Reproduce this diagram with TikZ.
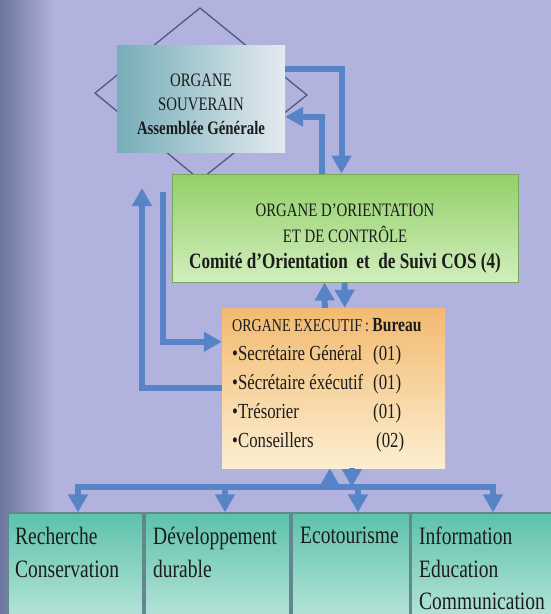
\documentclass[tikz,border=0pt]{standalone}
\usepackage{fontspec}
\setmainfont{Liberation Serif}[FakeStretch=0.78]
\usetikzlibrary{calc}
\usetikzlibrary{arrows.meta}
\usetikzlibrary{positioning}
\definecolor{custom-lavender}{RGB}{178, 178, 222}
\definecolor{custom-slate}{RGB}{108, 118, 158}
\definecolor{custom-steel}{RGB}{86, 132, 198}
\definecolor{custom-teal}{RGB}{118, 174, 184}
\definecolor{custom-mist}{RGB}{228, 234, 240}
\definecolor{custom-green}{RGB}{146, 208, 104}
\definecolor{custom-pale-green}{RGB}{210, 238, 190}
\definecolor{custom-green-edge}{RGB}{118, 168, 92}
\definecolor{custom-orange}{RGB}{242, 186, 112}
\definecolor{custom-cream}{RGB}{252, 238, 208}
\definecolor{custom-aqua}{RGB}{92, 194, 170}
\definecolor{custom-pale-aqua}{RGB}{200, 234, 226}
\definecolor{custom-aqua-edge}{RGB}{96, 136, 142}
\definecolor{custom-ink}{RGB}{28, 28, 28}
\definecolor{custom-rhomb}{RGB}{72, 92, 132}
\tikzset{
  box/.style={rectangle, inner sep=0pt},
  txt/.style={inner sep=0pt, text=custom-ink, align=center},
  flow/.style={line width=6pt, draw=custom-steel, -{Triangle[width=19pt,length=18pt]}},
  bus/.style={line width=6pt, draw=custom-steel, line cap=rect},
  rhomb/.style={draw=custom-rhomb, line width=1.3pt}
}
\begin{document}
\begin{tikzpicture}[x=1pt, y=-1pt]
\clip (0,0) rectangle (551,614);
\fill[custom-lavender] (0,0) rectangle (551,614);
\shade[left color=custom-slate, right color=custom-lavender] (0,0) rectangle (55,614);
\draw[rhomb] (200,8) -- (307,95) -- (200,180) -- (95,93) -- cycle;

\node[box, left color=custom-teal, right color=custom-mist, minimum width=168pt, minimum height=107pt] (souv) at (201,98.5) {};
\node[box, draw=custom-green-edge, line width=1pt, top color=custom-green, bottom color=custom-pale-green, minimum width=346pt, minimum height=108pt] (cos) at (345,228) {};
\node[box, top color=custom-orange, bottom color=custom-cream, minimum width=223pt, minimum height=160pt] (exec) at (333.5,388) {};
\foreach \b/\x/\w in {rech/75.5/135, dev/217.5/145, eco/351/118, info/484.5/147}
  \node[box, draw=custom-aqua-edge, line width=1.2pt, top color=custom-aqua, bottom color=custom-pale-aqua, minimum width=\w pt, minimum height=127pt] (\b) at (\x,576.5) {};

\draw[flow] ($(souv.north east)+(0,24)$) -| ($(cos.north west)+(170,0)$);
\draw[flow] ($(cos.north west)+(150,0)$) |- ($(souv.north east)+(0,72)$);
\coordinate (feedIn) at (163,192);
\draw[flow] (feedIn) |- ($(exec.north west)+(0,34)$);
\coordinate (feedOut) at (142,188);
\draw[flow] ($(exec.north west)+(0,80)$) -| (feedOut);
\draw[flow] ($(cos.south west)+(173,0)$) -- ($(exec.north west)+(123,0)$);
\draw[flow] ($(exec.north west)+(103,0)$) -- ($(cos.south west)+(153,0)$);

\foreach \x [count=\i] in {78, 225, 358, 493}
  \coordinate (tap\i) at (\x,487);
\draw[bus] (tap1) -- (tap4);
\foreach \b [count=\i] in {rech, dev, eco, info}
  \draw[flow] (tap\i) -- (tap\i |- \b.north);
\coordinate (execOut) at ($(exec.south west)+(130,0)$);
\draw[flow] (execOut) -- (execOut |- tap1);
\coordinate (execIn) at ($(exec.south west)+(108,0)$);
\draw[flow] (execIn |- tap1) -- (execIn);

\node[txt, anchor=north, font=\fontsize{19}{24}\selectfont] (souvText) at (201,74) {ORGANE\\SOUVERAIN\\\textbf{Assemblée Générale}};
\node[txt, anchor=north, font=\fontsize{19}{26}\selectfont] (cosText) at (345,204) {ORGANE D'ORIENTATION\\ET DE CONTRÔLE\\{\fontsize{22}{26}\selectfont\textbf{Comité d'Orientation\ \ et\ \ de Suivi COS (4)}}};
\node[txt, align=left, anchor=north west, font=\fontsize{21.5}{29}\selectfont] (execText) at (232,318) {{\fontsize{18}{29}\selectfont ORGANE EXECUTIF\,: \textbf{\fontsize{20}{29}\selectfont Bureau}}\\
  \makebox[141pt][l]{•Secrétaire Général}(01)\\
  \makebox[141pt][l]{•Sécrétaire éxécutif}(01)\\
  \makebox[141pt][l]{•Trésorier}(01)\\
  \makebox[144pt][l]{•Conseillers}(02)};
\node[txt, align=left, anchor=north west, font=\fontsize{25}{32.5}\selectfont] (rechText) at (15,527) {Recherche\\Conservation};
\node[txt, align=left, anchor=north west, font=\fontsize{25}{32.5}\selectfont] (devText) at (153,527) {Développement\\durable};
\node[txt, align=left, anchor=north west, font=\fontsize{25}{32.5}\selectfont] (ecoText) at (300,527) {Ecotourisme};
\node[txt, align=left, anchor=north west, font=\fontsize{25}{32.5}\selectfont] (infoText) at (419,527) {Information\\Education\\Communication};
\end{tikzpicture}
\end{document}
